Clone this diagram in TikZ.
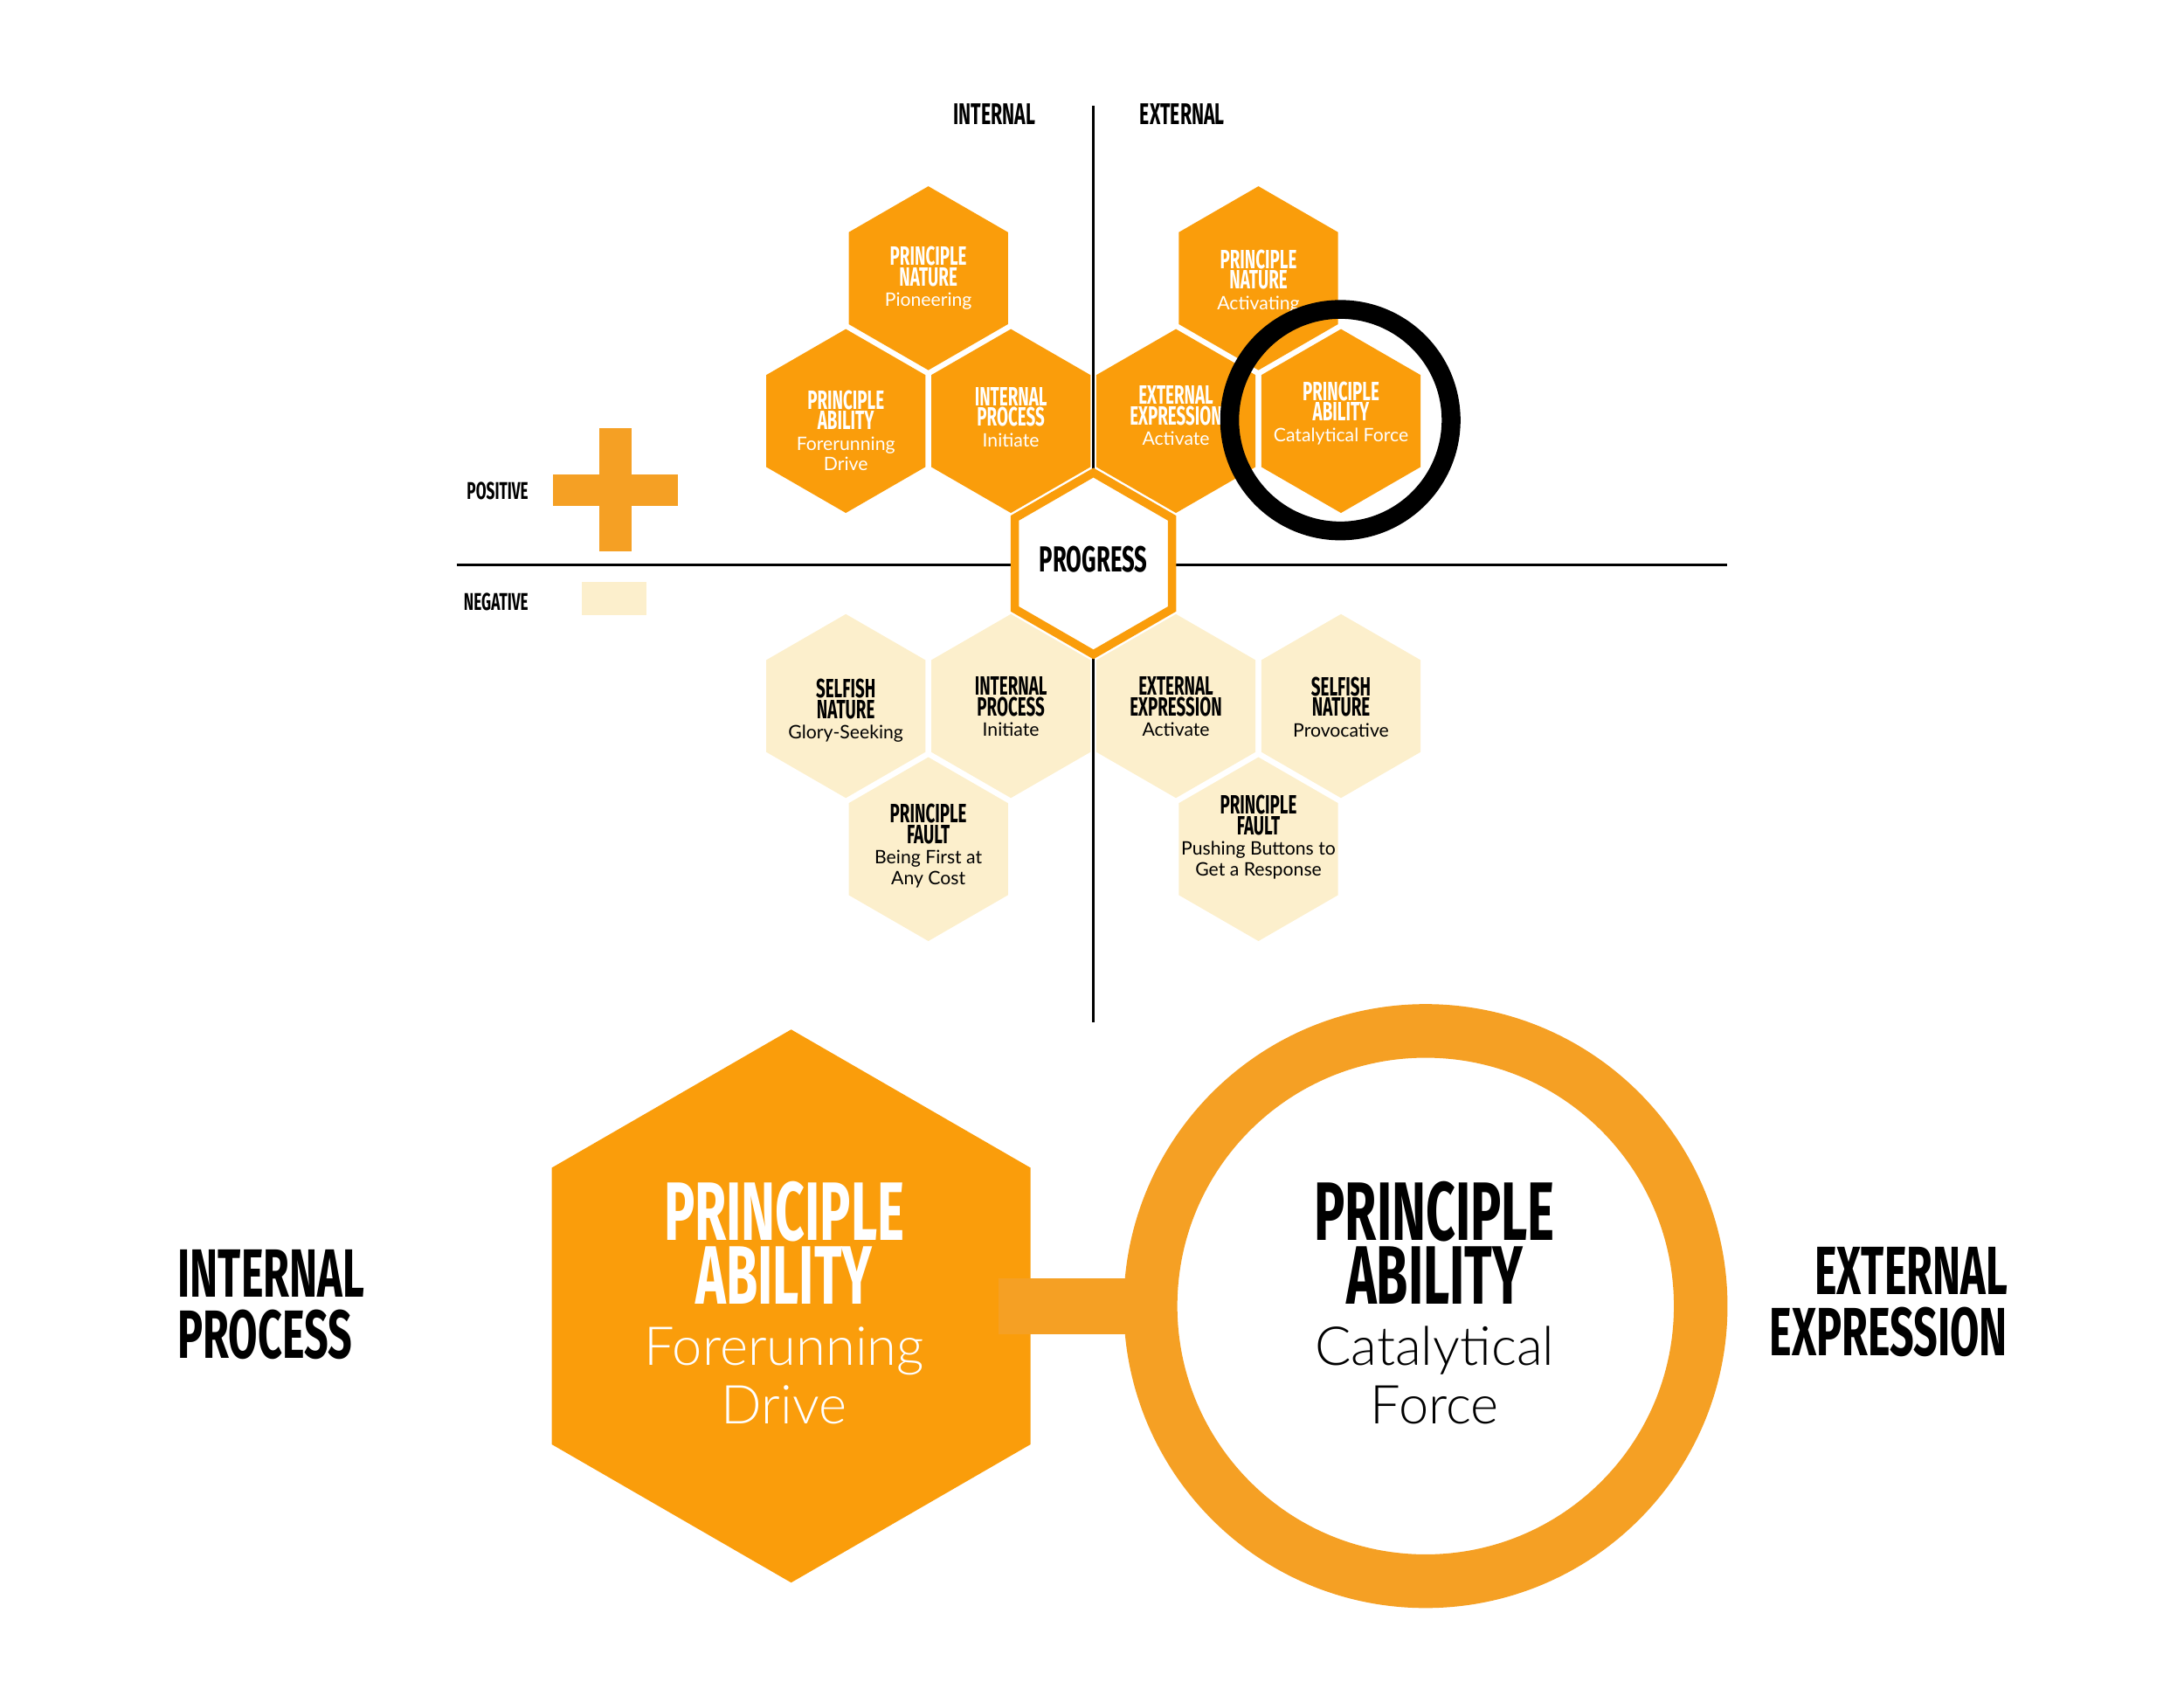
\documentclass[tikz,border=0pt]{standalone}
\usepackage{fontspec}
\usepackage{tikz}
\usetikzlibrary{shapes.geometric}

\newfontfamily\capsfont{Fira Sans}[FakeStretch=0.62]
\newfontfamily\plainfont{Lato}
\newfontfamily\thinfont{Lato Light}

\definecolor{hexorange}{HTML}{FA9D0B}
\definecolor{ringorange}{HTML}{F5A024}
\definecolor{hexpale}{HTML}{FCEFCC}

\newcommand{\smallsub}[1]{{\plainfont\mdseries\fontsize{13.3}{14.7}\selectfont #1}}
\newcommand{\bigsub}[1]{{\thinfont\mdseries\fontsize{38.5}{42}\selectfont #1}}

\begin{document}
\begin{tikzpicture}[x=1pt, y=-1pt,
    hexcell/.style={regular polygon, regular polygon sides=6, shape border rotate=30,
        minimum size=132pt, inner sep=0pt, outer sep=0pt},
    celltext/.style={anchor=north, align=center, inner sep=0pt,
        font=\capsfont\bfseries\fontsize{19}{14.7}\selectfont},
    bigtext/.style={anchor=north, align=center, inner sep=0pt,
        font=\capsfont\bfseries\fontsize{59.5}{45.6}\selectfont},
    sidetext/.style={inner sep=0pt, font=\capsfont\bfseries\fontsize{49}{44}\selectfont},
    axistext/.style={inner sep=0pt, anchor=north, font=\capsfont\bfseries\fontsize{21.5}{24}\selectfont},
    keytext/.style={inner sep=0pt, anchor=north east, font=\capsfont\bfseries\fontsize{17.4}{20}\selectfont}]
    \useasboundingbox (0,0) rectangle (1568,1212);

    % Axis Lines (Black)
    \coordinate (axtop) at (785,76);
    \coordinate (axbot) at (785,734);
    \coordinate (axleft) at (328,405.6);
    \coordinate (axright) at (1240,405.6);
    \draw[line width=1.8pt] (axtop) -- (axbot);
    \draw[line width=1.8pt] (axleft) -- (axright);

    \node[axistext] (internal) at (714,74.2) {INTERNAL};
    \node[axistext] (external) at (848.8,74.2) {EXTERNAL};

    % Key: plus and pale swatch
    \fill[ringorange] (430.4,307.4) rectangle (453.5,395.8);
    \fill[ringorange] (396.8,340.4) rectangle (486.8,363);
    \fill[hexpale] (417.9,417.8) rectangle (464.3,441.6);
    \node[keytext] (positive) at (379.5,346) {POSITIVE};
    \node[keytext] (negative) at (379.5,425.5) {NEGATIVE};

    % Honeycomb cells
    \newcommand{\hexcell}[6]{
        \node[hexcell, fill=#3] (#1) at #2 {};
        \node[celltext, text=#4] (#1-text) at ([yshift=#5pt]#1.center) {#6};
    }

    \hexcell{pnL}{(666.5,199.7)}{hexorange}{white}{22.8}{PRINCIPLE\\NATURE\\\smallsub{Pioneering}}
    \hexcell{pnR}{(903.5,199.7)}{hexorange}{white}{20.7}{PRINCIPLE\\NATURE\\\smallsub{Activating}}
    \hexcell{paL}{(607.25,302.2)}{hexorange}{white}{22.1}{PRINCIPLE\\ABILITY\\\smallsub{Forerunning}\\\smallsub{Drive}}
    \hexcell{ipU}{(725.75,302.2)}{hexorange}{white}{24.2}{INTERNAL\\PROCESS\\\smallsub{Initiate}}
    \hexcell{eeU}{(844.25,302.2)}{hexorange}{white}{25.3}{EXTERNAL\\EXPRESSION\\\smallsub{Activate}}
    \hexcell{paR}{(962.75,302.2)}{hexorange}{white}{28.4}{PRINCIPLE\\ABILITY\\\smallsub{Catalytical Force}}

    \hexcell{snL}{(607.25,506.8)}{hexpale}{black}{19.6}{SELFISH\\NATURE\\\smallsub{Glory-Seeking}}
    \hexcell{ipD}{(725.75,506.8)}{hexpale}{black}{21.1}{INTERNAL\\PROCESS\\\smallsub{Initiate}}
    \hexcell{eeD}{(844.25,506.8)}{hexpale}{black}{21.1}{EXTERNAL\\EXPRESSION\\\smallsub{Activate}}
    \hexcell{snR}{(962.75,506.8)}{hexpale}{black}{21.1}{SELFISH\\NATURE\\\smallsub{Provocative}}
    \hexcell{pfL}{(666.5,609.5)}{hexpale}{black}{32.5}{PRINCIPLE\\FAULT\\\smallsub{Being First at}\\\smallsub{Any Cost}}
    \hexcell{pfR}{(903.5,609.5)}{hexpale}{black}{38.7}{PRINCIPLE\\FAULT\\\smallsub{Pushing Buttons to}\\\smallsub{Get a Response}}

    % Progress cell (outlined)
    \node[hexcell, minimum size=130.4pt, fill=white, draw=hexorange, line width=6pt] (progress) at (785,404.5) {};
    \node[axistext, font=\capsfont\bfseries\fontsize{26}{28}\selectfont] (progress-text)
        at ([yshift=12.5pt]progress.center) {PROGRESS};

    % Black focus ring
    \node[circle, draw=black, line width=13.5pt, minimum size=159pt, inner sep=0pt] (focus) at (962.3,301.6) {};

    % Close-up: hexagon joined to ring
    \node[hexcell, fill=hexorange, minimum size=397pt] (bighex) at (568,937.5) {};
    \node[circle, draw=ringorange, fill=white, line width=38.5pt, minimum size=395pt,
        inner sep=0pt, outer sep=0pt] (bigring) at (1023.5,937.5) {};
    \draw[ringorange, line width=40pt] ([xshift=-23pt]bighex.east) -- (bigring.west);

    \node[bigtext, text=white] (bighex-text) at (563,847.8)
        {PRINCIPLE\\ABILITY\\[-1.5pt]\bigsub{Forerunning}\\[-3.7pt]\bigsub{Drive}};
    \node[bigtext, text=black] (bigring-text) at (1030,847.8)
        {PRINCIPLE\\ABILITY\\[-1.5pt]\bigsub{Catalytical}\\[-3.7pt]\bigsub{Force}};

    % Side captions
    \node[sidetext, anchor=north west, align=left] (intproc) at (127.5,897) {INTERNAL\\PROCESS};
    \node[sidetext, anchor=north east, align=right] (extexp) at (1441.5,895) {EXTERNAL\\EXPRESSION};
\end{tikzpicture}
\end{document}
